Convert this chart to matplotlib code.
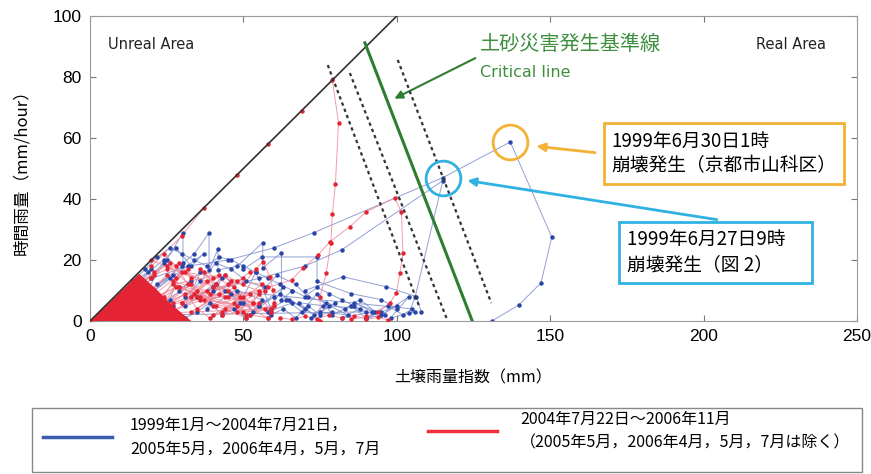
import matplotlib.pyplot as plt
from matplotlib.patches import Rectangle
from matplotlib.lines import Line2D

plt.rcParams['font.family'] = ['Noto Sans CJK JP', 'DejaVu Sans']

# dense red core near the origin (outline)
core_x = [0, 16, 21, 27, 33, 0]
core_y = [0, 15.5, 11, 5, 0, 0]

# scattered cloud, red period
red_cloud_x = [0, 3, 6, 2, 8, 12, 5, 10, 15, 9, 18, 14, 20, 7, 22, 16, 25, 12, 28, 19, 30, 24,
               33, 17, 35, 27, 38, 22, 40, 30, 42, 26, 45, 33, 48, 29, 50, 36, 52, 40, 55, 44,
               57, 48, 60, 52, 58, 45]
red_cloud_y = [0, 2, 4, 1, 6, 8, 3, 5, 10, 2, 12, 6, 14, 1, 9, 4, 15, 3, 11, 7, 16, 5,
               12, 2, 8, 13, 10, 4, 14, 6, 9, 3, 12, 8, 5, 11, 3, 7, 9, 2, 6, 4,
               10, 3, 5, 2, 1, 8]
red_cloud2_x = [12, 17, 21, 26, 14, 23, 28, 32, 19, 35, 25, 38, 30, 42, 27, 44, 36, 47, 33, 50,
                39, 53, 31, 56, 43, 59, 37, 55, 46, 51, 41, 34, 29, 24, 18, 13]
red_cloud2_y = [9, 13, 16, 19, 11, 7, 14, 17, 4, 10, 18, 13, 6, 15, 12, 8, 17, 11, 3, 14,
                9, 6, 16, 12, 2, 4, 7, 10, 13, 1, 5, 9, 11, 8, 6, 3]
red_cloud3_x = [5, 9, 13, 17, 21, 25, 29, 33, 37, 41, 45, 49, 53, 57, 11, 15, 19, 23, 27, 31,
                35, 39, 43, 47, 51, 55, 59, 20, 24, 28, 32, 36, 40, 44, 48, 52]
red_cloud3_y = [4, 7, 10, 13, 15, 17, 19, 14, 16, 12, 10, 8, 6, 4, 2, 5, 3, 1, 6, 9,
                4, 1, 3, 6, 2, 9, 3, 20, 22, 18, 12, 8, 11, 15, 13, 16]

# scattered cloud, blue period
blue_cloud_x = [2, 5, 9, 13, 8, 16, 20, 11, 24, 18, 27, 22, 30, 26, 33, 29, 36, 31, 40, 35, 43,
                38, 46, 41, 50, 44, 53, 48, 56, 52, 60, 55, 63, 58, 66, 62, 70, 65, 73, 68, 76,
                72, 80, 75, 84, 78, 88, 82, 92, 86, 96, 90, 100, 95, 104, 98, 106]
blue_cloud_y = [1, 3, 7, 11, 4, 14, 17, 6, 19, 9, 15, 12, 18, 7, 13, 10, 16, 5, 11, 8, 14,
                4, 9, 12, 6, 15, 3, 10, 7, 2, 8, 5, 11, 3, 6, 9, 4, 7, 2, 6, 5,
                1, 6, 3, 2, 5, 4, 1, 3, 6, 2, 1, 5, 2, 8, 1, 3]
blue_cloud2_x = [15, 19, 24, 28, 33, 37, 21, 26, 31, 36, 41, 46, 51, 57, 61, 67, 71, 77, 83, 88,
                 93, 97, 102, 105, 44, 49, 54, 59, 64, 69, 74, 79, 85, 90, 95]
blue_cloud2_y = [12, 16, 20, 24, 18, 22, 10, 14, 8, 13, 19, 17, 13, 11, 15, 12, 8, 6, 4, 7,
                 3, 5, 2, 4, 10, 6, 16, 4, 7, 3, 9, 2, 5, 1, 3]
blue_cloud3_x = [14, 18, 22, 26, 30, 34, 38, 42, 46, 50, 54, 58, 62, 66, 70, 74, 78, 82, 86, 90,
                 23, 27, 31, 35, 39, 43, 47, 51, 55, 59, 63, 67, 71, 75, 79]
blue_cloud3_y = [13, 17, 21, 24, 22, 20, 18, 21, 20, 18, 16, 14, 12, 10, 8, 11, 9, 7, 5, 3,
                 2, 5, 1, 3, 6, 2, 4, 1, 5, 2, 4, 1, 5, 2, 3]

# red storm paths
red_t1_x = [20, 30, 37, 48, 58, 69, 79, 81, 80, 79, 78.5, 77, 75, 75]
red_t1_y = [18, 28, 37, 48, 58, 69, 79, 65, 45, 35, 25.6, 15.7, 8, 0]
red_t2_x = [40, 50, 58, 65.7, 69.4, 74.3, 78.2, 84.7, 90, 99.3, 101.5, 102, 101, 99.9, 97.7, 94, 90, 85]
red_t2_y = [5, 8, 11, 13.4, 17.4, 21.6, 26, 30.9, 35.8, 40.3, 35.8, 22.3, 15.7, 9.2, 5.9, 3, 1.5, 0.5]
red_t3_x = [50, 54, 56.4, 58.6, 59.6, 60, 59, 58]
red_t3_y = [12, 17, 19.5, 14.5, 10.2, 6, 3, 1]
red_t4_x = [62, 66, 70, 74, 78, 82, 86, 90, 94, 97]
red_t4_y = [1, 0.5, 1.5, 0.8, 2, 1, 1.8, 0.6, 1.2, 0.4]

# blue storm paths
blue_t1_x = [20, 32, 45, 60, 73, 115, 137, 150.5, 147, 139.7, 131]
blue_t1_y = [14, 18, 20, 24, 29, 47, 58.7, 27.5, 12.5, 5.2, 0]
blue_t2_x = [40, 55, 70, 82, 115, 106, 104]
blue_t2_y = [10, 14, 18, 23.3, 46, 8, 2.6]
blue_t3_x = [25, 30.3, 30.3, 34, 38.8, 38.8, 41.7, 41.7, 48, 56.3, 56.3, 62.4, 62.4, 66]
blue_t3_y = [20, 28.9, 19, 22, 28.9, 16.7, 23.6, 16.7, 18, 25.7, 17.4, 22.4, 6.9, 10]
blue_t4_x = [50, 56, 74, 74, 85, 95, 100]
blue_t4_y = [17, 21, 21, 13, 9, 7, 4]
blue_t5_x = [70, 82.5, 96.6, 106.4, 108]
blue_t5_y = [10, 14.5, 11.2, 8, 3]

# reference lines
diag_x = [0, 100]
diag_y = [0, 100]
crit_x = [89.6, 124.6]
crit_y = [91.2, 0]
dash_lines = [([77.5, 107.5], [83.9, 4.3]),
              ([84.7, 116.2], [81.3, 1.0]),
              ([100.3, 130.8], [85.6, 5.9])]

legend_labels = ['1999年1月～2004年7月21日，\n2005年5月，2006年4月，5月，7月',
                 '2004年7月22日～2006年11月\n（2005年5月，2006年4月，5月，7月は除く）']

blue_line = '#8090cc'
blue_dot = '#2a44a8'
red_line = '#f08a98'
red_dot = '#e42434'
green = '#2f7d32'
orange = '#f2b233'
cyan = '#2fb2e2'

fig = plt.figure(figsize=(8.71, 4.74), dpi=100)
ax = fig.add_axes([90 / 871, 1 - 321 / 474, 767 / 871, 305 / 474])

ax.fill(core_x, core_y, color=red_dot, lw=0, zorder=3)

def path(x, y, lc, mc, z=2):
    ax.plot(x, y, color=lc, lw=0.7, alpha=0.85, zorder=z)
    ax.plot(x, y, ls='none', marker='o', ms=2.2, color=mc, zorder=z + 0.5)

path(blue_cloud_x, blue_cloud_y, blue_line, blue_dot)
path(blue_cloud2_x, blue_cloud2_y, blue_line, blue_dot)
path(blue_cloud3_x, blue_cloud3_y, blue_line, blue_dot)
path(red_cloud_x, red_cloud_y, red_line, red_dot, 2.2)
path(red_cloud2_x, red_cloud2_y, red_line, red_dot, 2.2)
path(red_cloud3_x, red_cloud3_y, red_line, red_dot, 2.2)
for bx, by in [(blue_t1_x, blue_t1_y), (blue_t2_x, blue_t2_y), (blue_t3_x, blue_t3_y),
               (blue_t4_x, blue_t4_y), (blue_t5_x, blue_t5_y)]:
    path(bx, by, blue_line, blue_dot)
for rx, ry in [(red_t1_x, red_t1_y), (red_t2_x, red_t2_y), (red_t3_x, red_t3_y),
               (red_t4_x, red_t4_y)]:
    path(rx, ry, red_line, red_dot, 2.2)

ax.plot(diag_x, diag_y, color='#333333', lw=1.2, zorder=4)
ax.plot(crit_x, crit_y, color=green, lw=2.2, zorder=4)
for dx, dy in dash_lines:
    ax.plot(dx, dy, color='#333333', lw=1.6, ls=(0, (1.5, 1.5)), zorder=4)

# circled failure points
ax.plot([137], [58.7], marker='o', ms=25, mfc='none', mec=orange, mew=2, zorder=5)
ax.plot([115], [47], marker='o', ms=25, mfc='none', mec=cyan, mew=2, zorder=5)

ax.text(6, 90.5, 'Unreal Area', fontsize=10.5, family=['DejaVu Sans'], va='center', color='#222222')
ax.text(217, 90.5, 'Real Area', fontsize=10.5, family=['DejaVu Sans'], va='center', color='#222222')
ax.text(127, 90.5, '土砂災害発生基準線', fontsize=14.5, color='#3d8f3f', va='center')
ax.text(127, 81.6, 'Critical line', fontsize=11.5, color='#3d8f3f', va='center', family=['DejaVu Sans'])
ax.annotate('', xy=(98.4, 72.5), xytext=(126.4, 86.6),
            arrowprops=dict(arrowstyle='-|>', color=green, lw=1.5, mutation_scale=12))

ax.text(170, 54.9, '1999年6月30日1時\n崩壊発生（京都市山科区）', fontsize=13.5, va='center',
        linespacing=1.25, bbox=dict(boxstyle='square,pad=0.4', fc='white', ec=orange, lw=2), zorder=6)
ax.text(175, 22.5, '1999年6月27日9時　\n崩壊発生（図 2）', fontsize=13.5, va='center',
        linespacing=1.25, bbox=dict(boxstyle='square,pad=0.4', fc='white', ec=cyan, lw=2), zorder=6)
ax.annotate('', xy=(144.6, 57.4), xytext=(165.5, 55.1),
            arrowprops=dict(arrowstyle='-|>', color=orange, lw=2, mutation_scale=12))
ax.annotate('', xy=(122.1, 46.2), xytext=(205.2, 33.1),
            arrowprops=dict(arrowstyle='-|>', color=cyan, lw=2, mutation_scale=12))

ax.set_xlim(0, 250)
ax.set_ylim(0, 100)
ax.set_xticks(range(0, 251, 50))
ax.set_yticks(range(0, 101, 20))
ax.tick_params(direction='in', top=True, right=True, length=4, color='#777777', pad=6)
for lab in ax.get_xticklabels() + ax.get_yticklabels():
    lab.set_fontfamily(['Liberation Sans', 'DejaVu Sans'])
    lab.set_fontsize(12.5)
for s in ax.spines.values():
    s.set_color('#999999')
ax.set_xlabel('土壌雨量指数（mm）', fontsize=11.5, labelpad=18)
ax.set_ylabel('時間雨量（mm/hour）', fontsize=12, labelpad=16)

# legend box drawn in figure pixels
def fx(px):
    return px / 871

def fy(py):
    return 1 - py / 474

fig.patches.append(Rectangle((fx(32), fy(472)), fx(862) - fx(32), fy(408) - fy(472),
                             transform=fig.transFigure, fc='white', ec='#888888', lw=1))
fig.lines.append(Line2D([fx(43), fx(112)], [fy(437), fy(437)], transform=fig.transFigure,
                        color='#3a5cb0', lw=2.5))
fig.lines.append(Line2D([fx(428), fx(497)], [fy(431), fy(431)], transform=fig.transFigure,
                        color='#f0303c', lw=2.5))
fig.text(fx(130), fy(437), legend_labels[0], fontsize=11.5, va='center', linespacing=1.5)
fig.text(fx(520), fy(431), legend_labels[1], fontsize=11.5, va='center', linespacing=1.5)

fig.savefig('out.png', dpi=100)
